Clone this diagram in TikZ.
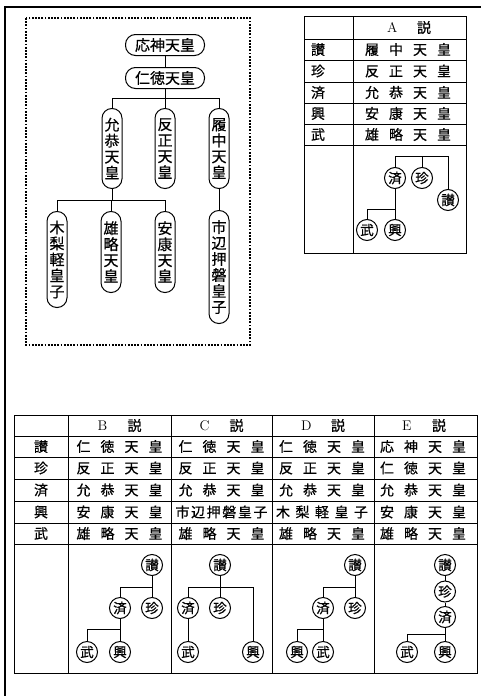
\documentclass[tikz,border=0pt]{standalone}
\usepackage{fontspec}
\newfontfamily\cjk[FakeBold=0.6]{Noto Sans CJK JP}
\newcommand\fourk[4]{\makebox[86pt][s]{#1\hfill#2\hfill#3\hfill#4}}
\newcommand\hdrk[1]{\makebox[44pt][s]{{\normalfont\fontsize{14}{14}\selectfont #1}\hfill 説}}
\begin{document}
\begin{tikzpicture}[x=1pt,y=-1pt,line width=1pt,
  pillh/.style={draw,rounded corners=10pt,minimum width=79pt,minimum height=21pt,inner sep=0pt,font=\cjk\fontsize{15}{16}\selectfont},
  pillv/.style={draw,rounded corners=9.8pt,minimum width=20pt,inner sep=0pt,anchor=north,align=center,font=\cjk\fontsize{15}{16}\selectfont},
  circ/.style={draw,circle,minimum size=21pt,inner sep=0pt,font=\cjk\fontsize{13.5}{13.5}\selectfont},
  cell/.style={inner sep=0pt,font=\cjk\fontsize{14}{14}\selectfont},
  frame/.style={line width=1.3pt},
  dotbox/.style={line width=1.4pt,dash pattern=on 1.8pt off 1.4pt}]
\useasboundingbox (0,0) rectangle (481,696);
% outer frame
\draw[frame] (5,696) -- (5,7) -- (481,7);
% dotted box
\draw[dotbox] (26,18) rectangle (250,345);
% genealogy
\node[pillh] (ojin) at (165,45) {応神天皇};
\node[pillh] (nintoku) at (165,78) {仁徳天皇};
\node[pillv,minimum height=80pt] (ingyo) at (112,108) {允\\恭\\天\\皇};
\node[pillv,minimum height=80pt] (hanzei) at (165,108) {反\\正\\天\\皇};
\node[pillv,minimum height=80pt] (richu) at (219,108) {履\\中\\天\\皇};
\node[pillv,minimum height=96pt] (kinashi) at (57,211) {木\\梨\\軽\\皇\\子};
\node[pillv,minimum height=81pt] (yuryaku) at (111,211) {雄\\略\\天\\皇};
\node[pillv,minimum height=81pt] (anko) at (165,211) {安\\康\\天\\皇};
\node[pillv,minimum height=113pt] (ichinobe) at (219,210) {市\\辺\\押\\磐\\皇\\子};
\draw (ojin) -- (nintoku);
\coordinate (b1) at (0,98);
\coordinate (b2) at (0,200);
\draw (nintoku.south) -- (nintoku.south |- b1);
\draw (ingyo.north) -- (ingyo.north |- b1) -- (richu.north |- b1) -- (richu.north);
\draw (hanzei.north) -- (hanzei.north |- b1);
\draw (ingyo.south) -- (ingyo.south |- b2);
\draw (kinashi.north) -- (kinashi.north |- b2) -- (anko.north |- b2) -- (anko.north);
\draw (yuryaku.north) -- (yuryaku.north |- b2);
\draw (richu.south) -- (ichinobe.north);
% table A
\draw (304,16) rectangle (466,253);
\draw (353,16) -- (353,253);
\foreach \yy in {39,60,82,103,124,145} \draw (304,\yy) -- (466,\yy);
\node[cell] (Ah) at (409,27.5) {\hdrk{A}};
\node[cell] (Al1) at (318,49.5) {讃};
\node[cell] (Al2) at (318,71) {珍};
\node[cell] (Al3) at (318,92.5) {済};
\node[cell] (Al4) at (318,113.5) {興};
\node[cell] (Al5) at (318,134.5) {武};
\node[cell] (Ar1) at (408,49.5) {\fourk{履}{中}{天}{皇}};
\node[cell] (Ar2) at (408,71) {\fourk{反}{正}{天}{皇}};
\node[cell] (Ar3) at (408,92.5) {\fourk{允}{恭}{天}{皇}};
\node[cell] (Ar4) at (408,113.5) {\fourk{安}{康}{天}{皇}};
\node[cell] (Ar5) at (408,134.5) {\fourk{雄}{略}{天}{皇}};
\node[circ] (A-sei) at (395,178) {済};
\node[circ] (A-chin) at (422,178) {珍};
\node[circ] (A-san) at (448,200) {讃};
\node[circ] (A-ko) at (395,230) {興};
\node[circ] (A-bu) at (367,230) {武};
\draw (A-sei.north) |- (A-san.north |- 0,156) -- (A-san.north);
\draw (A-chin.north) -- (A-chin.north |- 0,156);
\draw (A-sei) -- (A-ko);
\draw (A-bu.north) |- (A-ko.north |- 0,209);
% bottom table
\draw (14,415) rectangle (477,673);
\foreach \xx in {68,171,272,374} \draw (\xx,415) -- (\xx,673);
\foreach \yy in {436,457,479,501,523,544} \draw (14,\yy) -- (477,\yy);
\node[cell] (Bh) at (119.5,425.5) {\hdrk{B}};
\node[cell] (Ch) at (221.5,425.5) {\hdrk{C}};
\node[cell] (Dh) at (323,425.5) {\hdrk{D}};
\node[cell] (Eh) at (424,425.5) {\hdrk{E}};
\node[cell] (L1) at (41,446.5) {讃};
\node[cell] (L2) at (41,468) {珍};
\node[cell] (L3) at (41,490) {済};
\node[cell] (L4) at (41,512) {興};
\node[cell] (L5) at (41,533.5) {武};
% B
\node[cell] (B1) at (119.5,446.5) {\fourk{仁}{徳}{天}{皇}};
\node[cell] (B2) at (119.5,468) {\fourk{反}{正}{天}{皇}};
\node[cell] (B3) at (119.5,490) {\fourk{允}{恭}{天}{皇}};
\node[cell] (B4) at (119.5,512) {\fourk{安}{康}{天}{皇}};
\node[cell] (B5) at (119.5,533.5) {\fourk{雄}{略}{天}{皇}};
% C
\node[cell] (C1) at (221.5,446.5) {\fourk{仁}{徳}{天}{皇}};
\node[cell] (C2) at (221.5,468) {\fourk{反}{正}{天}{皇}};
\node[cell] (C3) at (221.5,490) {\fourk{允}{恭}{天}{皇}};
\node[cell] (C4) at (221.5,512) {\makebox[92pt][s]{市\hfill 辺\hfill 押\hfill 磐\hfill 皇\hfill 子}};
\node[cell] (C5) at (221.5,533.5) {\fourk{雄}{略}{天}{皇}};
% D
\node[cell] (D1) at (322,446.5) {\fourk{仁}{徳}{天}{皇}};
\node[cell] (D2) at (322,468) {\fourk{反}{正}{天}{皇}};
\node[cell] (D3) at (322,490) {\fourk{允}{恭}{天}{皇}};
\node[cell] (D4) at (322,512) {\makebox[92pt][s]{木\hfill 梨\hfill 軽\hfill 皇\hfill 子}};
\node[cell] (D5) at (322,533.5) {\fourk{雄}{略}{天}{皇}};
% E
\node[cell] (E1) at (423,446.5) {\fourk{応}{神}{天}{皇}};
\node[cell] (E2) at (423,468) {\fourk{仁}{徳}{天}{皇}};
\node[cell] (E3) at (423,490) {\fourk{允}{恭}{天}{皇}};
\node[cell] (E4) at (423,512) {\fourk{安}{康}{天}{皇}};
\node[cell] (E5) at (423,533.5) {\fourk{雄}{略}{天}{皇}};
% B tree
\node[circ] (B-san) at (152,565) {讃};
\node[circ] (B-chin) at (152,608) {珍};
\node[circ] (B-sei) at (120,608) {済};
\node[circ] (B-ko) at (120,652) {興};
\node[circ] (B-bu) at (87,652) {武};
\draw (B-san) -- (B-chin);
\draw (B-sei.north) |- (B-san.south |- 0,587);
\draw (B-sei) -- (B-ko);
\draw (B-bu.north) |- (B-ko.north |- 0,629);
% C tree
\node[circ] (C-san) at (220,565) {讃};
\node[circ] (C-chin) at (220,608) {珍};
\node[circ] (C-sei) at (188,608) {済};
\node[circ] (C-bu) at (188,652) {武};
\node[circ] (C-ko) at (253,652) {興};
\draw (C-san) -- (C-chin);
\draw (C-sei.north) |- (C-ko.north |- 0,587) -- (C-ko.north);
\draw (C-sei) -- (C-bu);
% D tree
\node[circ] (D-san) at (355,565) {讃};
\node[circ] (D-chin) at (355,608) {珍};
\node[circ] (D-sei) at (323,608) {済};
\node[circ] (D-bu) at (323,652) {武};
\node[circ] (D-ko) at (297,652) {興};
\draw (D-san) -- (D-chin);
\draw (D-sei.north) |- (D-san.south |- 0,587);
\draw (D-sei) -- (D-bu);
\draw (D-ko.north) |- (D-bu.north |- 0,629);
% E tree
\node[circ] (E-san) at (445,565) {讃};
\node[circ] (E-chin) at (445,591.5) {珍};
\node[circ] (E-sei) at (445,617) {済};
\node[circ] (E-ko) at (445,652) {興};
\node[circ] (E-bu) at (407,652) {武};
\draw (E-san) -- (E-chin);
\draw (E-chin) -- (E-sei);
\draw (E-sei) -- (E-ko);
\draw (E-bu.north) |- (E-ko.north |- 0,634);
\end{tikzpicture}
\end{document}
